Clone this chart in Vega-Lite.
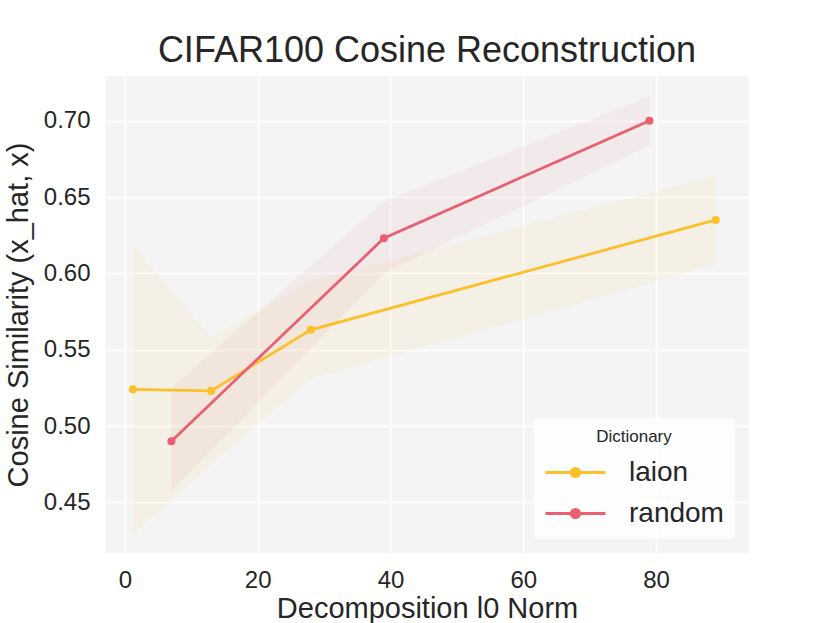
{
  "$schema": "https://vega.github.io/schema/vega-lite/v6.json",
  "width": 644,
  "height": 477,
  "autosize": {"type": "none"},
  "padding": {"left": 105, "top": 76, "right": 81, "bottom": 70},
  "background": "white",
  "title": {
    "text": "CIFAR100 Cosine Reconstruction",
    "font": "Liberation Sans",
    "fontSize": 36,
    "fontWeight": "normal",
    "color": "#262626",
    "anchor": "middle",
    "offset": 6
  },
  "config": {
    "view": {"fill": "#f4f4f4", "stroke": null},
    "axis": {
      "grid": true,
      "gridColor": "white",
      "gridWidth": 1.6,
      "domain": false,
      "ticks": false,
      "labelFont": "Liberation Sans",
      "titleFont": "Liberation Sans",
      "labelFontSize": 24,
      "titleFontSize": 29,
      "labelColor": "#262626",
      "titleColor": "#262626",
      "titleFontWeight": "normal"
    }
  },
  "data": {
    "values": [
      {"Dictionary": "laion", "l0": 1.2, "cos": 0.524, "lo": 0.429, "hi": 0.618},
      {"Dictionary": "laion", "l0": 13, "cos": 0.523, "lo": 0.475, "hi": 0.558},
      {"Dictionary": "laion", "l0": 28, "cos": 0.563, "lo": 0.531, "hi": 0.595},
      {"Dictionary": "laion", "l0": 89, "cos": 0.635, "lo": 0.606, "hi": 0.664},
      {"Dictionary": "random", "l0": 7, "cos": 0.49, "lo": 0.457, "hi": 0.525},
      {"Dictionary": "random", "l0": 39, "cos": 0.623, "lo": 0.6, "hi": 0.647},
      {"Dictionary": "random", "l0": 79, "cos": 0.7, "lo": 0.684, "hi": 0.716}
    ]
  },
  "encoding": {
    "x": {
      "field": "l0",
      "type": "quantitative",
      "title": "Decomposition l0 Norm",
      "scale": {"domain": [-3, 94], "nice": false, "zero": false},
      "axis": {"values": [0, 20, 40, 60, 80], "labelPadding": 15, "titlePadding": 2}
    },
    "color": {
      "field": "Dictionary",
      "type": "nominal",
      "scale": {"domain": ["laion", "random"], "range": ["#fbc02a", "#e95f74"]},
      "legend": {
        "orient": "bottom-right",
        "offset": 14,
        "title": "Dictionary",
        "titleFont": "Liberation Sans",
        "titleFontSize": 17,
        "titleFontWeight": "normal",
        "titleColor": "#262626",
        "titleAnchor": "middle",
        "titlePadding": 10,
        "labelFont": "Liberation Sans",
        "labelFontSize": 28,
        "labelColor": "#262626",
        "labelOffset": 37,
        "rowPadding": 10,
        "padding": 11,
        "fillColor": "rgba(255,255,255,0.8)",
        "cornerRadius": 5,
        "symbolType": "M-2,0L2,0M0.28,0A0.28,0.28,0,1,1,-0.28,0A0.28,0.28,0,1,1,0.28,0Z",
        "symbolSize": 900,
        "symbolOffset": 14,
        "symbolStrokeWidth": 2.8,
        "encode": {
          "symbols": {
            "update": {
              "fill": {"scale": "color", "field": "value"},
              "stroke": {"scale": "color", "field": "value"},
              "fillOpacity": {"value": 1},
              "strokeOpacity": {"value": 1},
              "opacity": {"value": 1}
            }
          }
        }
      }
    }
  },
  "layer": [
    {
      "mark": {"type": "area", "opacity": 0.07},
      "encoding": {
        "y": {
          "field": "lo",
          "type": "quantitative",
          "title": "Cosine Similarity (x_hat, x)",
          "scale": {"domain": [0.4168, 0.7293], "nice": false, "zero": false},
          "axis": {"values": [0.45, 0.5, 0.55, 0.6, 0.65, 0.7], "format": ".2f", "labelPadding": 15, "titlePadding": 10}
        },
        "y2": {"field": "hi"}
      }
    },
    {
      "mark": {"type": "line", "strokeWidth": 2.8},
      "encoding": {
        "y": {"field": "cos", "type": "quantitative"}
      }
    },
    {
      "mark": {"type": "circle", "size": 65, "opacity": 1},
      "encoding": {
        "y": {"field": "cos", "type": "quantitative"}
      }
    }
  ]
}
